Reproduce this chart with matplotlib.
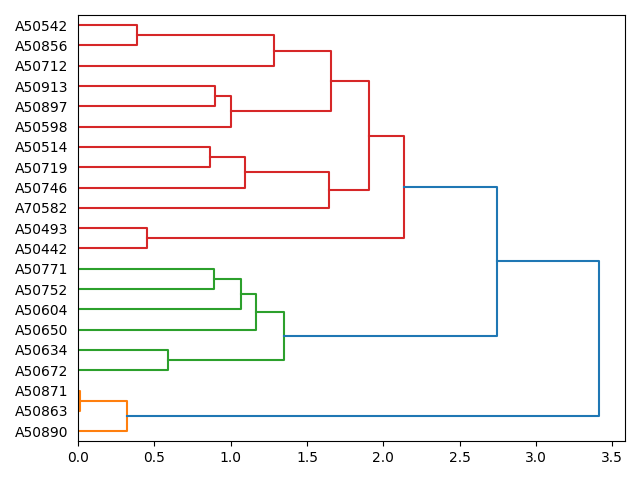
import numpy as np
import matplotlib.pyplot as plt

# hojas, de arriba a abajo como en la figura
etiquetas = ["A50542", "A50856", "A50712", "A50913", "A50897", "A50598",
             "A50514", "A50719", "A50746", "A70582", "A50493", "A50442",
             "A50771", "A50752", "A50604", "A50650", "A50634", "A50672",
             "A50871", "A50863", "A50890"]

# uniones tipo linkage: cluster nuevo = 21, 22, ...
izq = [0, 21, 3, 23, 22, 6, 26, 27, 25, 10, 29, 12, 32, 33, 16, 34, 18, 37, 31, 39]
der = [1, 2, 4, 5, 24, 7, 8, 9, 28, 11, 30, 13, 14, 15, 17, 35, 19, 20, 36, 38]
altura = [0.384, 1.284, 0.897, 1.002, 1.658, 0.864, 1.096, 1.646, 1.906, 0.451,
          2.136, 0.888, 1.067, 1.164, 0.589, 1.347, 0.012, 0.320, 2.747, 3.414]

n = len(etiquetas)
pos_y = {i: 5 + 10 * (n - 1 - i) for i in range(n)}
alt = {i: 0.0 for i in range(n)}
for k in range(len(altura)):
    c = n + k
    pos_y[c] = (pos_y[izq[k]] + pos_y[der[k]]) / 2
    alt[c] = altura[k]

umbral = 0.7 * max(altura)

# colores por grupo bajo el umbral
padre = {}
for k in range(len(altura)):
    padre[izq[k]] = n + k
    padre[der[k]] = n + k
raices = [c for c in alt if alt[c] < umbral and alt.get(padre.get(c), 99) >= umbral and c >= n]
raices.sort(key=lambda c: pos_y[c])

def hojas_de(c):
    if c < n:
        return [c]
    k = c - n
    return hojas_de(izq[k]) + hojas_de(der[k]) + [c]

color = {}
for j, r in enumerate(raices):
    for c in hojas_de(r):
        color[c] = "C%d" % (j + 1)

fig, ax = plt.subplots(figsize=(6.4, 4.8), dpi=100)
for k in range(len(altura)):
    c = n + k
    a, b = izq[k], der[k]
    xs = [alt[a], altura[k], altura[k], alt[b]]
    ys = [pos_y[a], pos_y[a], pos_y[b], pos_y[b]]
    ax.plot(xs, ys, color=color.get(c, "C0"), linewidth=1.5)

ax.set_ylim(0, 10 * n)
ax.set_xlim(0, max(altura) * 1.05)
ax.set_yticks([pos_y[i] for i in range(n)])
ax.set_yticklabels(etiquetas)
ax.tick_params(axis="y", which="both", left=False, right=False)
plt.tight_layout()
plt.savefig("out.png")
